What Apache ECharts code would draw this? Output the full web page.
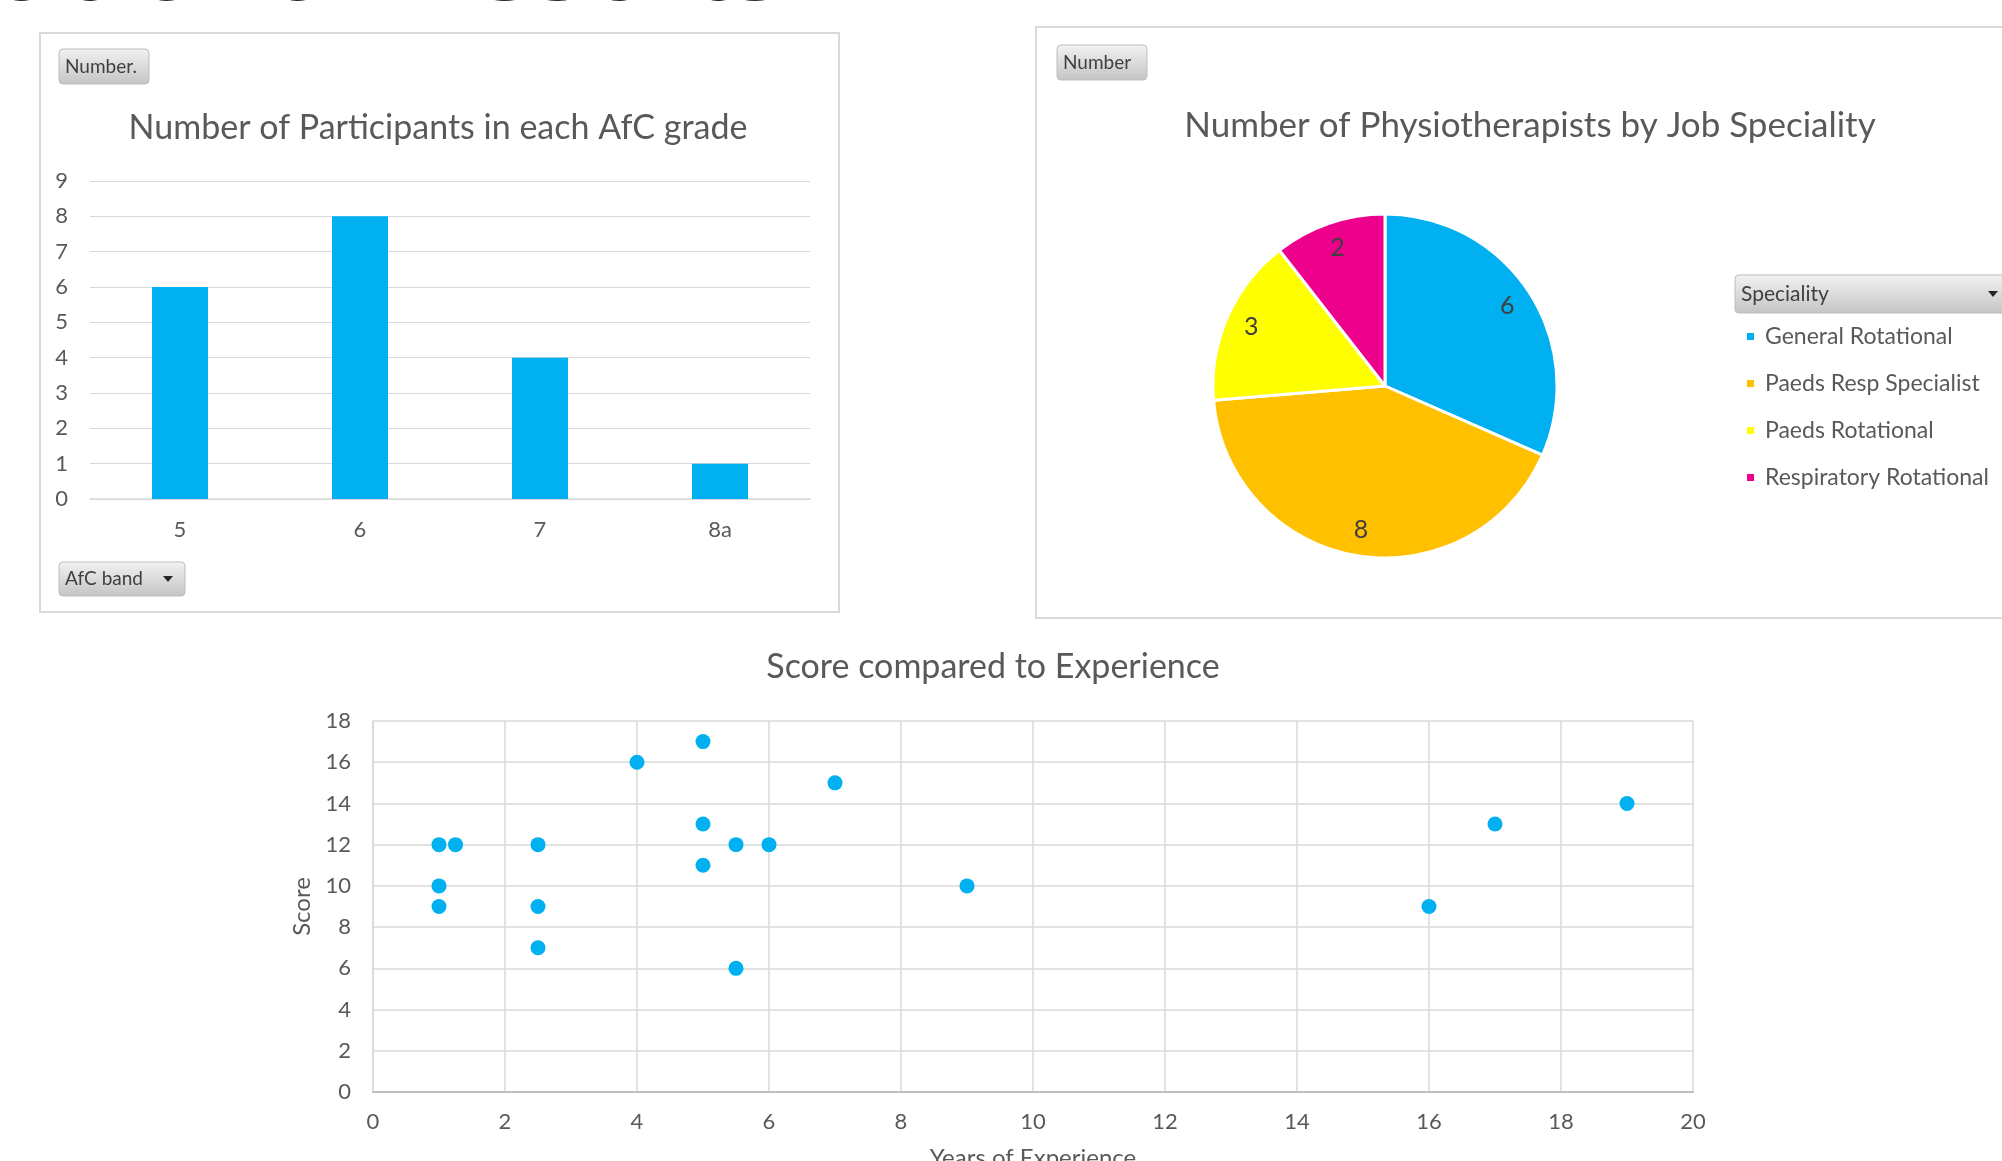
<!DOCTYPE html>
<html>
<head>
<meta charset="utf-8">
<script src="https://cdn.jsdelivr.net/npm/echarts@6/dist/echarts.min.js"></script>
<style>
html,body{margin:0;padding:0;background:#fff;}
#chart{width:2002px;height:1161px;}
</style>
</head>
<body>
<div id="chart"></div>
<script>
// ---- data ----
const afcBands = ['5', '6', '7', '8a'];
const afcCounts = [6, 8, 4, 1];

const specialities = ['General Rotational', 'Paeds Resp Specialist', 'Paeds Rotational', 'Respiratory Rotational'];
const specialityCounts = [6, 8, 3, 2];
const specialityColors = ['#00B0F0', '#FFC000', '#FFFF00', '#EC008C'];

const yearsExperience = [1, 1.25, 1, 1, 2.5, 2.5, 2.5, 4, 5, 5, 5, 5.5, 5.5, 6, 7, 9, 16, 17, 19];
const scores = [12, 12, 10, 9, 12, 9, 7, 16, 17, 13, 11, 12, 6, 12, 15, 10, 9, 13, 14];

const barTitle = 'Number of Participants in each AfC grade';
const pieTitle = 'Number of Physiotherapists by Job Speciality';
const scatterTitle = 'Score compared to Experience';

// ---- styles ----
const FONT = 'Lato, "Open Sans", sans-serif';
const TXT = '#595959';
const GRID = '#D9D9D9';

const chart = echarts.init(document.getElementById('chart'));

const pieData = specialities.map((n, i) => ({ name: n, value: specialityCounts[i], itemStyle: { color: specialityColors[i] } }));
const scatterData = yearsExperience.map((x, i) => [x, scores[i]]);

function button(x, y, w, h, label, arrow, fs) {
  const els = [{
    type: 'rect', shape: { x: x, y: y, width: w, height: h, r: 4 },
    style: {
      fill: new echarts.graphic.LinearGradient(0, 0, 0, 1, [{ offset: 0, color: '#F2F2F2' }, { offset: 1, color: '#C4C4C4' }]),
      stroke: '#BDBDBD', lineWidth: 1
    }, z: 1
  }, {
    type: 'text', style: { x: x + 6, y: y + h / 2, text: label, fill: '#404040', font: (fs || 19) + 'px ' + FONT, verticalAlign: 'middle' }, z: 2
  }];
  if (arrow) {
    const ax = x + w - 17, ay = y + h / 2;
    els.push({ type: 'polygon', shape: { points: [[ax - 5, ay - 3], [ax + 5, ay - 3], [ax, ay + 3]] }, style: { fill: '#262626' }, z: 2 });
  }
  return els;
}

const graphics = [].concat(
  [{ type: 'rect', shape: { x: 40, y: 33, width: 799, height: 579 }, style: { fill: 'none', stroke: GRID, lineWidth: 2 }, z: 0 },
   { type: 'rect', shape: { x: 1036, y: 27, width: 1000, height: 591 }, style: { fill: 'none', stroke: GRID, lineWidth: 2 }, z: 0 },
   { type: 'text', style: { x: -4, y: -33, text: 'ational Results', fill: '#262626', font: '115px "Noto Sans", sans-serif', verticalAlign: 'middle' }, z: 0 }],
  button(59, 49, 90, 35, 'Number.', false, 19),
  button(59, 562, 126, 34, 'AfC band', true, 19),
  button(1057, 45, 90, 35, 'Number', false, 19),
  button(1735, 275, 275, 38, 'Speciality', true, 21)
);

const titleStyle = { fontSize: 34, fontWeight: 'normal', color: TXT, fontFamily: FONT };

const option = {
  animation: false,
  textStyle: { fontFamily: FONT },
  title: [
    { text: barTitle, left: 438, top: 128, textAlign: 'center', textVerticalAlign: 'middle', padding: 0, textStyle: titleStyle },
    { text: pieTitle, left: 1530, top: 126, textAlign: 'center', textVerticalAlign: 'middle', padding: 0, textStyle: Object.assign({}, titleStyle, { fontSize: 35 }) },
    { text: scatterTitle, left: 993, top: 667, textAlign: 'center', textVerticalAlign: 'middle', padding: 0, textStyle: titleStyle }
  ],
  legend: {
    data: specialities, orient: 'vertical', left: 1745, top: 325, icon: 'rect',
    itemWidth: 9, itemHeight: 9, itemGap: 24, padding: 0,
    textStyle: { fontSize: 23, color: TXT, fontFamily: FONT, padding: [0, 0, 0, 5] }
  },
  grid: [
    { left: 90, top: 181, width: 720, height: 318, containLabel: false, outerBoundsMode: 'none' },
    { left: 373, top: 721, width: 1320, height: 371, containLabel: false, outerBoundsMode: 'none' }
  ],
  xAxis: [
    { gridIndex: 0, type: 'category', data: afcBands,
      axisLine: { lineStyle: { color: GRID, width: 1.5 } }, axisTick: { show: false },
      axisLabel: { fontSize: 22, color: TXT, margin: 20 } },
    { gridIndex: 1, type: 'value', min: 0, max: 20, interval: 2,
      name: 'Years of Experience', nameLocation: 'middle', nameGap: 54,
      nameTextStyle: { fontSize: 24, color: TXT },
      axisLine: { show: true, lineStyle: { color: '#BFBFBF', width: 2 } }, axisTick: { show: false },
      splitLine: { show: true, lineStyle: { color: GRID, width: 1.5 } },
      axisLabel: { fontSize: 22, color: TXT, margin: 19 } }
  ],
  yAxis: [
    { gridIndex: 0, type: 'value', min: 0, max: 9, interval: 1,
      axisLine: { show: false }, axisTick: { show: false },
      splitLine: { lineStyle: { color: GRID, width: 1 } },
      axisLabel: { fontSize: 22, color: TXT, margin: 22 } },
    { gridIndex: 1, type: 'value', min: 0, max: 18, interval: 2,
      name: 'Score', nameLocation: 'middle', nameGap: 57, nameRotate: 90,
      nameTextStyle: { fontSize: 24, color: TXT },
      axisLine: { show: true, lineStyle: { color: GRID, width: 1.5 } }, axisTick: { show: false },
      splitLine: { lineStyle: { color: GRID, width: 1.5 } },
      axisLabel: { fontSize: 22, color: TXT, margin: 22 } }
  ],
  series: [
    { type: 'bar', xAxisIndex: 0, yAxisIndex: 0, data: afcCounts, barWidth: 56,
      itemStyle: { color: '#00B0F0' } },
    { type: 'pie', name: 'Speciality', center: [1385, 386], radius: [0, 172], startAngle: 90, clockwise: true,
      data: pieData, label: { show: false }, labelLine: { show: false },
      itemStyle: { borderColor: '#fff', borderWidth: 3 }, emphasis: { disabled: true } },
    { type: 'pie', name: 'labels', center: [1385, 386], radius: [114, 172], startAngle: 90, clockwise: true,
      data: pieData.map(d => ({ name: d.name, value: d.value, itemStyle: { color: 'rgba(0,0,0,0)' } })),
      silent: true, z: 3,
      label: { show: true, position: 'inside', formatter: '{c}', fontSize: 25, color: '#404040', fontFamily: FONT },
      labelLine: { show: false }, itemStyle: { borderWidth: 0 }, emphasis: { disabled: true } },
    { type: 'scatter', xAxisIndex: 1, yAxisIndex: 1, data: scatterData, symbolSize: 15,
      itemStyle: { color: '#00B0F0', opacity: 1 } }
  ],
  graphic: { elements: graphics }
};

chart.setOption(option);
</script>
</body>
</html>
